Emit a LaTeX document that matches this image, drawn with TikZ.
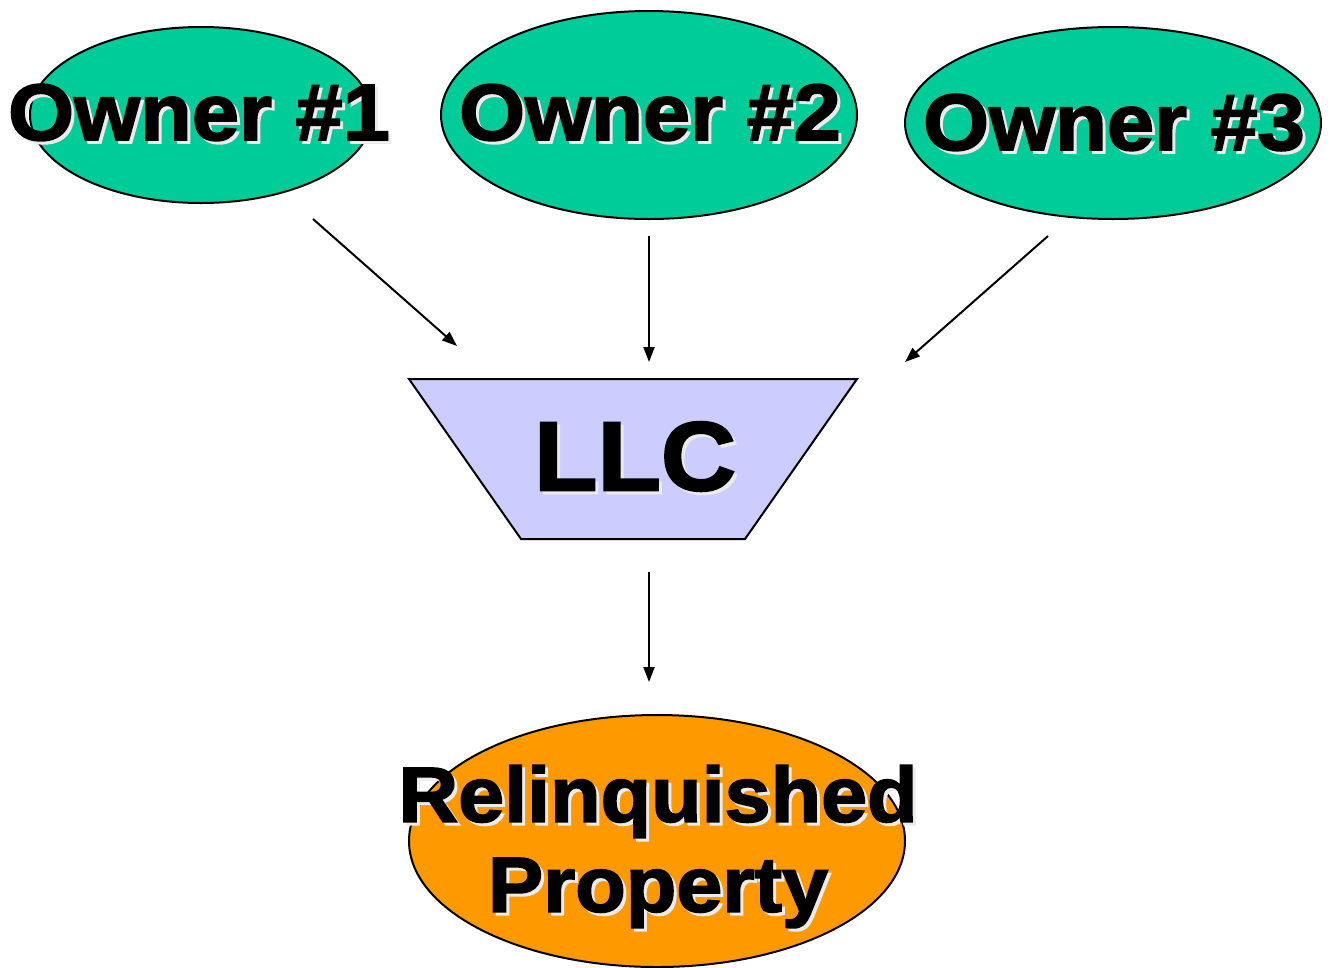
\documentclass[tikz,border=0pt]{standalone}
\usepackage{fontspec}
\setmainfont{Liberation Sans}[BoldFeatures={FakeBold=2.2,FakeStretch=1.06}]
\usetikzlibrary{arrows.meta,shapes.geometric}
\definecolor{ownergreen}{HTML}{00CC99}
\definecolor{llcblue}{HTML}{CCCCFF}
\definecolor{proporange}{HTML}{FF9900}
% text with a soft light drop shadow
\newcommand\glowtxt[1]{\makebox[0pt][l]{\hspace{3pt}\raisebox{-3pt}{\color{white!92!black}#1}}#1}
\tikzset{
  owner/.style={ellipse, draw=black, line width=2pt, fill=ownergreen, inner sep=0pt},
  bigtext/.style={font=\bfseries\fontsize{80}{92}\selectfont, align=center, inner sep=0pt},
  flow/.style={line width=2pt, -{Triangle[length=15pt,width=11pt]}}
}
\begin{document}
\begin{tikzpicture}[x=1pt,y=-1pt]
\useasboundingbox (0,0) rectangle (1332,967);

% owners
\node[owner, minimum width=342, minimum height=176] (o1) at (201,115) {};
\node[owner, minimum width=416, minimum height=208] (o2) at (649,115) {};
\node[owner, minimum width=416, minimum height=192] (o3) at (1113,123) {};

% LLC funnel
\coordinate (lt) at (409,379);
\coordinate (rt) at (857,379);
\coordinate (rb) at (745,539);
\coordinate (lb) at (521,539);
\fill[llcblue] (lt) -- (rt) -- (rb) -- (lb) -- cycle;
\draw[line width=2pt, line join=miter] (lt) -- (rt) -- (rb) -- (lb) -- cycle;

% property
\node[ellipse, draw=black, line width=2pt, fill=proporange, minimum width=496, minimum height=252, inner sep=0pt] (rp) at (657,841) {};

% labels
\node[bigtext] (t1) at (199,114) {\glowtxt{Owner \#1}};
\node[bigtext] (t2) at (650,114) {\glowtxt{Owner \#2}};
\node[bigtext] (t3) at (1114,124) {\glowtxt{Owner \#3}};
\node[bigtext, font=\bfseries\fontsize{98}{106}\selectfont] (tl) at (635,458) {\glowtxt{LLC}};
\node[bigtext, font=\bfseries\fontsize{78}{90}\selectfont] (tp) at (658,848) {\glowtxt{Relinquished}\\\glowtxt{Property}};

% arrow end points
\coordinate (a1s) at (313,219);
\coordinate (a1e) at (457,346);
\coordinate (a2s) at (649,236);
\coordinate (a2e) at (649,362);
\coordinate (a3s) at (1048,236);
\coordinate (a3e) at (905,362);
\coordinate (a4s) at (649,572);
\coordinate (a4e) at (649,682);
\draw[flow] (a1s) -- (a1e);
\draw[flow] (a2s) -- (a2e);
\draw[flow] (a3s) -- (a3e);
\draw[flow] (a4s) -- (a4e);
\end{tikzpicture}
\end{document}
